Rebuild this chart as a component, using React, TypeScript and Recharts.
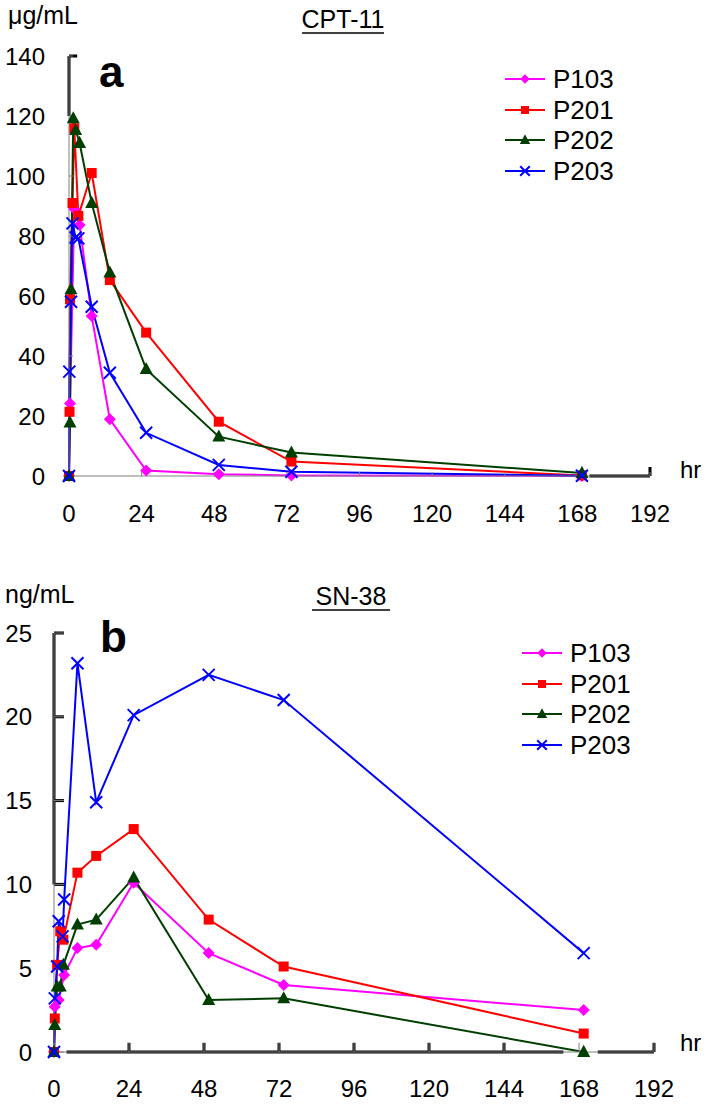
import React from "react";
import { LineChart, Line, XAxis, YAxis, ReferenceLine } from "recharts";

const FONT = "'Liberation Sans', Arial, sans-serif";

const hourTicks = [0, 24, 48, 72, 96, 120, 144, 168, 192];
const cptTicks = [0, 20, 40, 60, 80, 100, 120, 140];
const snTicks = [0, 5, 10, 15, 20, 25];
// ticks drawn heavy in panel b
const snHeavyY = [10, 15, 20, 25];
const snHeavyX = [24, 48, 72, 96, 120, 144, 192];

// CPT-11, µg/mL (panel a)
const cptP103 = [
  { t: 0, v: 0 }, { t: 0.33, v: 24.2 }, { t: 1.75, v: 89 }, { t: 3.5, v: 83.7 },
  { t: 7.5, v: 53.3 }, { t: 13.5, v: 18.9 }, { t: 25.5, v: 1.8 }, { t: 49.5, v: 0.6 },
  { t: 73.5, v: 0.2 }, { t: 169.5, v: 0 },
];
const cptP201 = [
  { t: 0, v: 0 }, { t: 0.17, v: 21.4 }, { t: 0.33, v: 58.9 }, { t: 1.15, v: 91 },
  { t: 1.75, v: 115.9 }, { t: 3.1, v: 86.7 }, { t: 7.5, v: 101 }, { t: 13.5, v: 65.3 },
  { t: 25.5, v: 47.8 }, { t: 49.5, v: 18.1 }, { t: 73.5, v: 4.8 }, { t: 169.5, v: 0.2 },
];
const cptP202 = [
  { t: 0, v: 0 }, { t: 0.33, v: 17.8 }, { t: 0.66, v: 62.2 }, { t: 1.4, v: 119.2 },
  { t: 2.2, v: 115.3 }, { t: 3.5, v: 111 }, { t: 7.5, v: 91 }, { t: 13.5, v: 67.8 },
  { t: 25.5, v: 35.6 }, { t: 49.5, v: 13.1 }, { t: 73.5, v: 7.8 }, { t: 169.5, v: 1.0 },
];
const cptP203 = [
  { t: 0, v: 0 }, { t: 0.1, v: 34.8 }, { t: 0.66, v: 58.1 }, { t: 1.15, v: 84.2 },
  { t: 2.2, v: 79.5 }, { t: 3.1, v: 79.2 }, { t: 7.5, v: 56.4 }, { t: 13.5, v: 34.4 },
  { t: 25.5, v: 14.4 }, { t: 49.5, v: 3.7 }, { t: 73.5, v: 1.4 }, { t: 169.5, v: 0.1 },
];

// SN-38, ng/mL (panel b)
const snP103 = [
  { t: 0, v: 0 }, { t: 0.25, v: 2.7 }, { t: 1.5, v: 3.1 }, { t: 3.25, v: 4.6 },
  { t: 7.5, v: 6.2 }, { t: 13.5, v: 6.4 }, { t: 25.5, v: 10.1 }, { t: 49.5, v: 5.9 },
  { t: 73.5, v: 4.0 }, { t: 169.5, v: 2.5 },
];
const snP201 = [
  { t: 0, v: 0 }, { t: 0.25, v: 2.0 }, { t: 1, v: 5.2 }, { t: 2, v: 7.2 },
  { t: 3, v: 6.7 }, { t: 7.5, v: 10.7 }, { t: 13.5, v: 11.7 }, { t: 25.5, v: 13.3 },
  { t: 49.5, v: 7.9 }, { t: 73.5, v: 5.1 }, { t: 169.5, v: 1.1 },
];
const snP202 = [
  { t: 0, v: 0 }, { t: 0.25, v: 1.6 }, { t: 1, v: 3.9 }, { t: 2, v: 3.9 },
  { t: 3, v: 5.2 }, { t: 7.5, v: 7.6 }, { t: 13.5, v: 7.9 }, { t: 25.5, v: 10.4 },
  { t: 49.5, v: 3.1 }, { t: 73.5, v: 3.2 }, { t: 169.5, v: 0 },
];
const snP203 = [
  { t: 0, v: 0 }, { t: 0.25, v: 3.2 }, { t: 1, v: 5.1 }, { t: 1.5, v: 7.8 },
  { t: 2.75, v: 6.9 }, { t: 3.25, v: 9.1 }, { t: 7.5, v: 23.2 }, { t: 13.5, v: 14.9 },
  { t: 25.5, v: 20.1 }, { t: 49.5, v: 22.5 }, { t: 73.5, v: 21.0 }, { t: 169.5, v: 5.9 },
];

const series = [
  { name: "P103", color: "#ff00ff", shape: "diamond" },
  { name: "P201", color: "#ff0000", shape: "square" },
  { name: "P202", color: "#003f00", shape: "triangle" },
  { name: "P203", color: "#0000ff", shape: "cross" },
];

function Marker({ shape, cx, cy, color, s = 1 }: any) {
  if (cx == null || cy == null) return null;
  if (shape === "diamond") {
    const r = 6 * s;
    return <polygon points={`${cx},${cy - r} ${cx + r},${cy} ${cx},${cy + r} ${cx - r},${cy}`} fill={color} />;
  }
  if (shape === "square") {
    const r = 5 * s;
    return <rect x={cx - r} y={cy - r} width={2 * r} height={2 * r} fill={color} />;
  }
  if (shape === "triangle") {
    const r = 6.5 * s;
    return <polygon points={`${cx},${cy - r * 1.1} ${cx + r},${cy + r * 0.75} ${cx - r},${cy + r * 0.75}`} fill={color} />;
  }
  const r = 6 * s;
  return (
    <path
      d={`M${cx - r},${cy - r}L${cx + r},${cy + r}M${cx - r},${cy + r}L${cx + r},${cy - r}`}
      stroke={color}
      strokeWidth={2}
    />
  );
}

const dotFor = (shape: string, color: string) => (props: any) => (
  <Marker key={`d-${props.index}`} shape={shape} cx={props.cx} cy={props.cy} color={color} />
);

function SeriesLegend({ left, top }: { left: number; top: number }) {
  return (
    <div style={{ position: "absolute", left, top, fontFamily: FONT, fontSize: 26, color: "#000" }}>
      {series.map((s) => (
        <div key={s.name} style={{ display: "flex", alignItems: "center", height: 30.5 }}>
          <svg width={42} height={30}>
            <line x1={0} x2={40} y1={15} y2={15} stroke={s.color} strokeWidth={2} />
            <Marker shape={s.shape} cx={20} cy={15} color={s.color} s={0.8} />
          </svg>
          <span style={{ marginLeft: 6, lineHeight: "30px" }}>{s.name}</span>
        </div>
      ))}
    </div>
  );
}

const tickStyle = { fill: "#000", fontSize: 24, fontFamily: FONT };
const heavy = { stroke: "#000", strokeWidth: 3, ifOverflow: "visible" as const };

export default function App() {
  const cptData = [cptP103, cptP201, cptP202, cptP203];
  const snData = [snP103, snP201, snP202, snP203];
  return (
    <div style={{ position: "absolute", left: 0, top: 0, width: 708, height: 1104, background: "#fff" }}>
      <div style={{ position: "absolute", left: 0, top: 0 }}>
        <LineChart width={708} height={540} margin={{ top: 56, right: 58, bottom: 0, left: 0 }}>
          <XAxis
            type="number"
            dataKey="t"
            domain={[0, 192]}
            ticks={hourTicks}
            height={64}
            axisLine={{ stroke: "#808080" }}
            tickLine={{ stroke: "#808080" }}
            tickSize={-4}
            tickMargin={33}
            tick={tickStyle}
            allowDuplicatedCategory={false}
          />
          <YAxis
            type="number"
            domain={[0, 140]}
            ticks={cptTicks}
            width={69}
            axisLine={{ stroke: "#808080" }}
            tickLine={{ stroke: "#808080" }}
            tickSize={-4}
            tickMargin={28}
            tick={tickStyle}
          />
          <ReferenceLine segment={[{ x: 0, y: 120 }, { x: 0, y: 140 }]} {...heavy} />
          <ReferenceLine segment={[{ x: 0, y: 140 }, { x: 2.7, y: 140 }]} {...heavy} />
          <ReferenceLine segment={[{ x: 172, y: 0 }, { x: 192, y: 0 }]} {...heavy} />
          <ReferenceLine segment={[{ x: 192, y: 0 }, { x: 192, y: 3 }]} {...heavy} />
          {series.map((s, i) => (
            <Line
              key={s.name}
              data={cptData[i]}
              dataKey="v"
              name={s.name}
              type="linear"
              stroke={s.color}
              strokeWidth={2}
              dot={dotFor(s.shape, s.color)}
              isAnimationActive={false}
            />
          ))}
        </LineChart>
        <SeriesLegend left={505} top={64} />
      </div>
      <div style={{ position: "absolute", left: 0, top: 540 }}>
        <LineChart width={708} height={564} margin={{ top: 93, right: 54, bottom: 0, left: 0 }}>
          <XAxis
            type="number"
            dataKey="t"
            domain={[0, 192]}
            ticks={hourTicks}
            height={52}
            axisLine={{ stroke: "#808080" }}
            tickLine={{ stroke: "#808080" }}
            tickSize={-9}
            tickMargin={37}
            tick={tickStyle}
            allowDuplicatedCategory={false}
          />
          <YAxis
            type="number"
            domain={[0, 25]}
            ticks={snTicks}
            width={54}
            axisLine={{ stroke: "#808080" }}
            tickLine={{ stroke: "#808080" }}
            tickSize={-10}
            tickMargin={32}
            tick={tickStyle}
          />
          <ReferenceLine segment={[{ x: 0, y: 10 }, { x: 0, y: 25 }]} {...heavy} />
          <ReferenceLine segment={[{ x: 4, y: 0 }, { x: 163, y: 0 }]} {...heavy} />
          <ReferenceLine segment={[{ x: 174, y: 0 }, { x: 192, y: 0 }]} {...heavy} />
          {snHeavyY.map((v) => (
            <ReferenceLine key={`hy${v}`} segment={[{ x: 0, y: v }, { x: 3.2, y: v }]} {...heavy} />
          ))}
          {snHeavyX.map((h) => (
            <ReferenceLine key={`hx${h}`} segment={[{ x: h, y: 0 }, { x: h, y: 0.55 }]} {...heavy} />
          ))}
          {series.map((s, i) => (
            <Line
              key={s.name}
              data={snData[i]}
              dataKey="v"
              name={s.name}
              type="linear"
              stroke={s.color}
              strokeWidth={2}
              dot={dotFor(s.shape, s.color)}
              isAnimationActive={false}
            />
          ))}
        </LineChart>
        <SeriesLegend left={522} top={98} />
      </div>
      <svg
        width={708}
        height={1104}
        style={{ position: "absolute", left: 0, top: 0, pointerEvents: "none" }}
        fontFamily={FONT}
      >
        <text x={8} y={24} fontSize={25}>μg/mL</text>
        <text x={343} y={28} fontSize={25} textAnchor="middle">CPT-11</text>
        <line x1={302} x2={384} y1={33} y2={33} stroke="#000" strokeWidth={1.5} />
        <text x={99} y={87} fontSize={44} fontWeight="bold">a</text>
        <text x={680} y={478} fontSize={24}>hr</text>
        <text x={5} y={603} fontSize={25}>ng/mL</text>
        <text x={351} y={605} fontSize={25} textAnchor="middle">SN-38</text>
        <line x1={312} x2={390} y1={610} y2={610} stroke="#000" strokeWidth={1.5} />
        <text x={100} y={652} fontSize={44} fontWeight="bold">b</text>
        <text x={680} y={1051} fontSize={24}>hr</text>
      </svg>
    </div>
  );
}
